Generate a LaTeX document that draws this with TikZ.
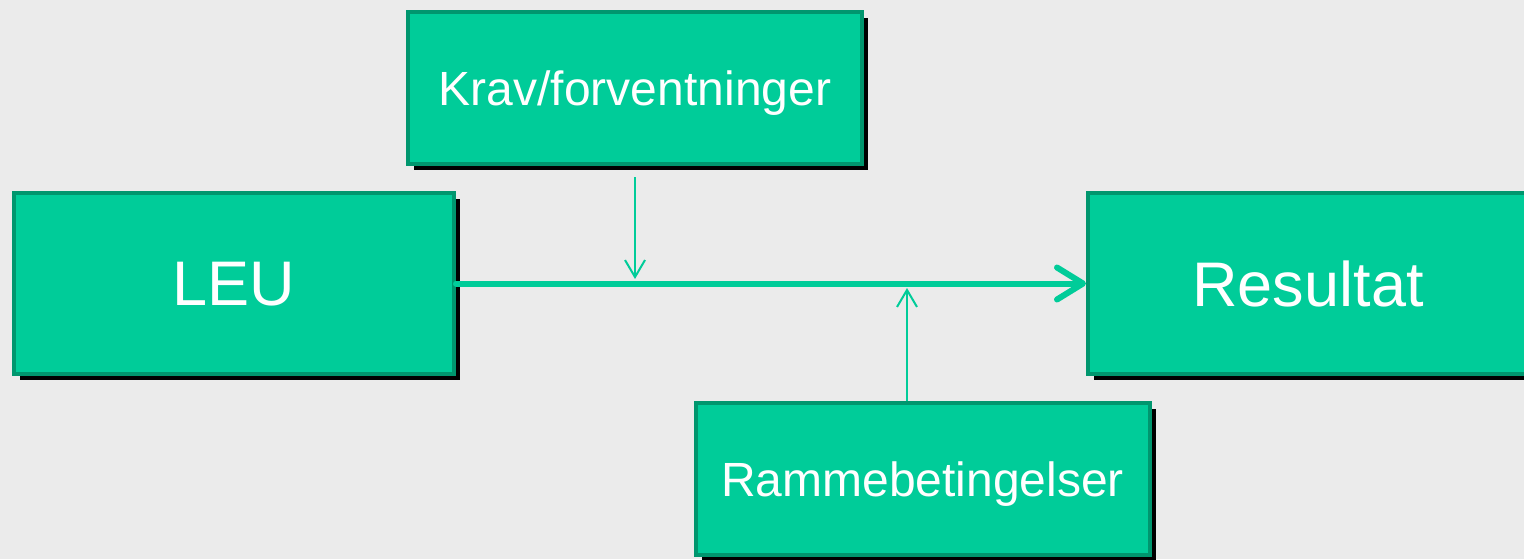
\documentclass[tikz,border=0pt]{standalone}
\usepackage{xcolor}
\usepackage{fontspec}
\setmainfont{Liberation Sans}
\usepackage{tikz}
\usetikzlibrary{arrows.meta,shadows}
\definecolor{boxgreen}{RGB}{0,204,153}
\definecolor{boxedge}{RGB}{0,150,110}
\definecolor{bggray}{RGB}{235,235,235}
\tikzset{>=stealth,
  box/.style={rectangle,fill=boxgreen,draw=boxedge,line width=2pt,text=white,
    inner sep=0pt,text depth=0pt,drop shadow={shadow xshift=3pt,shadow yshift=-3pt,fill=black,opacity=1}},
  bigbox/.style={box,minimum width=220pt,minimum height=90.5pt,font=\fontsize{31.5}{36}\selectfont},
  smallbox/.style={box,minimum width=227pt,minimum height=76pt,font=\fontsize{24}{28}\selectfont},
  flow/.style={line width=3pt,boxgreen,line cap=round,-{Straight Barb[length=13pt,width=16pt,round]}},
  feed/.style={line width=1pt,boxgreen,-{Straight Barb[length=8.5pt,width=10pt]}}}

\begin{document}
\begin{tikzpicture}[x=0.5pt,y=-0.5pt]
    \fill[bggray] (0,0) rectangle (1524,559);
    \useasboundingbox (0,0) rectangle (1524,559);
    \node[bigbox] at (234, 283.5)   (leu) {LEU};
    \node[bigbox] at (1308, 283.5)   (res) {Resultat};
    \node[smallbox] at (635, 88)   (krav) {Krav/forventninger};
    \node[smallbox] at (922.5, 479)   (ramme) {Rammebetingelser};
    \coordinate (kin) at (635, 279);
    \coordinate (rin) at (907, 288);
    \draw[flow] (leu.east)--(res.west);
    \draw[feed,shorten <=5.5pt] (krav.south)--(kin);
    \draw[feed] (ramme.north -| rin)--(rin);
\end{tikzpicture}
\end{document}
